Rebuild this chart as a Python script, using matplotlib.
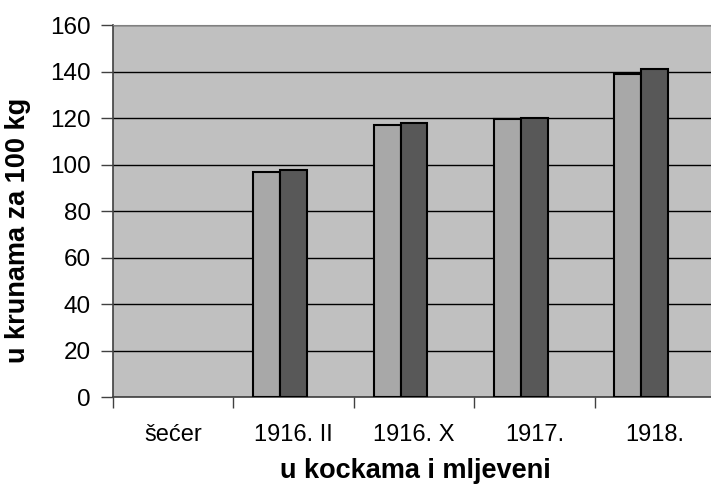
import numpy as np
import matplotlib.pyplot as plt

plt.rcParams['font.family'] = ['Liberation Sans', 'DejaVu Sans']

kategorije = ['šećer', '1916. II', '1916. X', '1917.', '1918.']
u_kockama = [np.nan, 96.7, 117.0, 119.8, 139.1]
mljeveni = [np.nan, 97.5, 118.0, 120.0, 141.0]

W, H = 711, 492
fig = plt.figure(figsize=(W/100, H/100), dpi=100)
ax = fig.add_axes([113/W, 1 - 397.3/H, 602/W, (397.3 - 25)/H])
ax.set_facecolor('#C0C0C0')

x = np.arange(len(kategorije))
w = 0.224
ax.bar(x - w, u_kockama, w, color='#A8A8A8', edgecolor='black', linewidth=1.5, zorder=3)
ax.bar(x, mljeveni, w, color='#585858', edgecolor='black', linewidth=1.5, zorder=3)

ax.set_ylim(0, 160)
ax.set_yticks(range(0, 161, 20))
ax.set_xlim(-0.5, 4.5)
ax.yaxis.grid(True, color='black', linewidth=1)
ax.set_axisbelow(True)

ax.set_xticks(np.arange(-0.5, 5, 1))
ax.set_xticklabels([])
ax.set_xticks(x, minor=True)
ax.set_xticklabels(kategorije, minor=True)
ax.tick_params(axis='x', which='minor', length=0, pad=19, labelsize=17)
ax.tick_params(axis='x', which='major', length=8, width=1, color='#404040')
ax.tick_params(axis='y', length=9, width=1, color='#404040', labelsize=17.5, pad=7)

for s in ['top', 'right']:
    ax.spines[s].set_color('#808080')
ax.spines['left'].set_color('#404040')
ax.spines['bottom'].set_color('#404040')
ax.spines['left'].set_linewidth(1.2)
ax.spines['bottom'].set_linewidth(1.2)

fig.text(18/W, 1 - 230/H, 'u krunama za 100 kg', fontsize=19.5, fontweight='bold',
         rotation=90, ha='center', va='center')
fig.text(415/W, 1 - 471/H, 'u kockama i mljeveni', fontsize=19.5, fontweight='bold',
         ha='center', va='center')

plt.savefig('out.png', dpi=100)
